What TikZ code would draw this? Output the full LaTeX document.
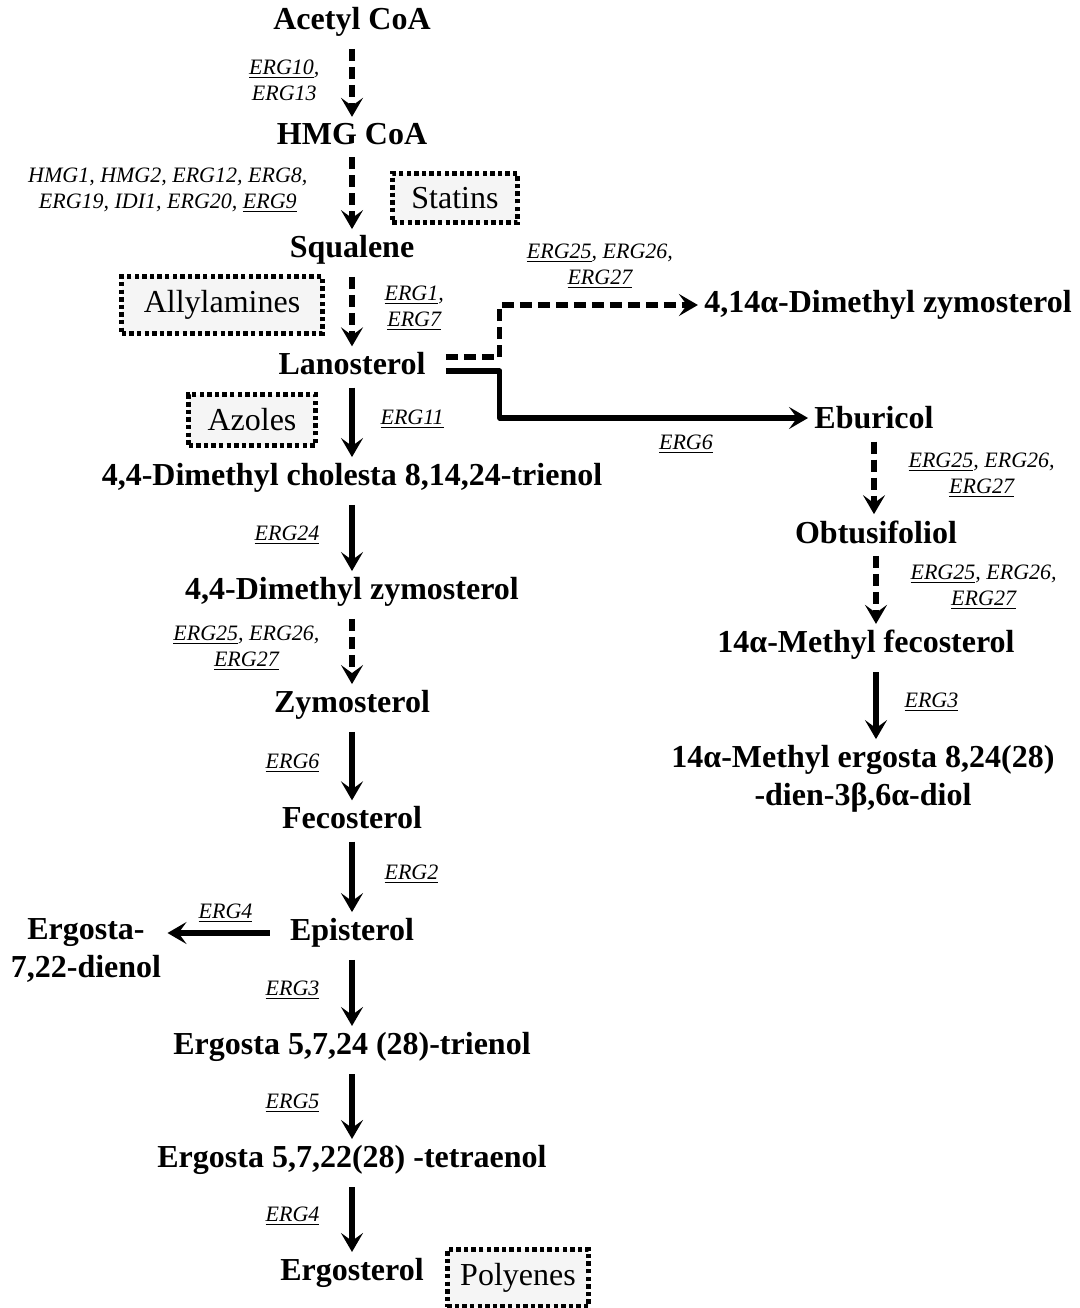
\documentclass[tikz,border=0pt]{standalone}
\usepackage{fontspec}
\setmainfont{Liberation Serif}
\usetikzlibrary{arrows.meta,positioning}
\newcommand{\gn}[1]{\underline{#1}}
\tikzset{
	cmpd/.style = {align=center, inner sep=2pt,
		font=\fontsize{16}{19}\selectfont\bfseries},% metabolite
	drug/.style = {draw=black, fill=gray!8, line width=2.4pt,
		dash pattern=on 2.2pt off 1.6pt, inner xsep=9.5pt, inner ysep=7pt,
		font=\fontsize{16}{19}\selectfont},% inhibitor class
	gene/.style = {align=center, inner sep=1pt,
		font=\fontsize{11}{13}\selectfont\itshape},% enzyme genes
	gl/.style = {gene, midway, left=14pt},
	gr/.style = {gene, midway, right=12pt},
	rx/.style = {-{Stealth[length=9.5pt,width=11pt,inset=4pt]}, line width=2.6pt,
		line join=round, shorten <=4pt, shorten >=1pt},% solid step
	rxd/.style = {rx, dash pattern=on 6pt off 3pt}% several steps
}
\begin{document}
\begin{tikzpicture}[x=0.5pt,y=-0.5pt]
\useasboundingbox (0,0) rectangle (1080,1308);
% main pathway
\node[cmpd] (acoa) at (352,22) {Acetyl CoA};
\node[cmpd] (hmg) at (352,134) {HMG CoA};
\node[cmpd] (sqa) at (352,250) {Squalene};
\node[cmpd] (lan) at (352,364) {Lanosterol};
\node[cmpd] (dmc) at (352,478) {4,4-Dimethyl cholesta 8,14,24-trienol};
\node[cmpd] (dmz) at (352,592) {4,4-Dimethyl zymosterol};
\node[cmpd] (zym) at (352,705) {Zymosterol};
\node[cmpd] (fec) at (352,818) {Fecosterol};
\node[cmpd] (epi) at (352,933) {Episterol};
\node[cmpd] (etr) at (352,1047) {Ergosta 5,7,24 (28)-trienol};
\node[cmpd] (ete) at (352,1160) {Ergosta 5,7,22(28) -tetraenol};
\node[cmpd] (erg) at (352,1273) {Ergosterol};
\node[cmpd] (edi) at (86,950) {Ergosta-\\7,22-dienol};
% branch
\node[cmpd] (dmz14) at (888,305) {4,14α-Dimethyl zymosterol};
\node[cmpd] (ebu) at (874,418) {Eburicol};
\node[cmpd] (obt) at (876,532) {Obtusifoliol};
\node[cmpd] (mfe) at (866,645) {14α-Methyl fecosterol};
\node[cmpd] (med) at (863,779) {14α-Methyl ergosta 8,24(28)\\-dien-3β,6α-diol};
% inhibitors
\node[drug] (stat) at (455,198) {Statins};
\node[drug, inner xsep=11pt] (ally) at (222,305) {Allylamines};
\node[drug] (azol) at (252,420) {Azoles};
\node[drug, inner xsep=6.5pt] (poly) at (518,1278) {Polyenes};

\draw[rxd] (acoa) -- node[gl] {\gn{ERG10},\\ERG13} (hmg);
\draw[rxd] (hmg) -- node[gl, left=20pt] {HMG1, HMG2, ERG12, ERG8,\\ERG19, IDI1, ERG20, \gn{ERG9}} (sqa);
\draw[rxd] (sqa) -- node[gr, right=14pt] {\gn{ERG1},\\\gn{ERG7}} (lan);
\draw[rx] (lan) -- node[gr] {\gn{ERG11}} (dmc);
\draw[rx] (dmc) -- node[gl] {\gn{ERG24}} (dmz);
\draw[rxd] (dmz) -- node[gl] {\gn{ERG25}, ERG26,\\\gn{ERG27}} (zym);
\draw[rx] (zym) -- node[gl] {\gn{ERG6}} (fec);
\draw[rx] (fec) -- node[gr, right=14pt] {\gn{ERG2}} (epi);
\draw[rx] (epi) -- node[gl] {\gn{ERG3}} (etr);
\draw[rx] (etr) -- node[gl] {\gn{ERG5}} (ete);
\draw[rx] (ete) -- node[gl] {\gn{ERG4}} (erg);
\draw[rx, shorten <=8pt] (epi.west) -- node[gene, above=3pt] {\gn{ERG4}} (epi.west -| edi.east);

\draw[rxd, shorten <=8pt] ([yshift=3.5pt]lan.east) -- ++(70,0)
	|- node[gene, pos=0.75, above=6pt] {\gn{ERG25}, ERG26,\\\gn{ERG27}} (dmz14.west);
\draw[rx, shorten <=8pt] ([yshift=-3.5pt]lan.east) -- ++(70,0)
	|- node[gene, pos=0.8, below=6pt] {\gn{ERG6}} (ebu.west);
\draw[rxd] (ebu.south) -- node[gr, right=15pt] {\gn{ERG25}, ERG26,\\\gn{ERG27}} (ebu.south |- obt.north);
\draw[rxd] (obt.south) -- node[gr, right=15pt] {\gn{ERG25}, ERG26,\\\gn{ERG27}} (obt.south |- mfe.north);
\draw[rx] (obt.south |- mfe.south) -- node[gr] {\gn{ERG3}} (obt.south |- med.north);
\end{tikzpicture}
\end{document}
